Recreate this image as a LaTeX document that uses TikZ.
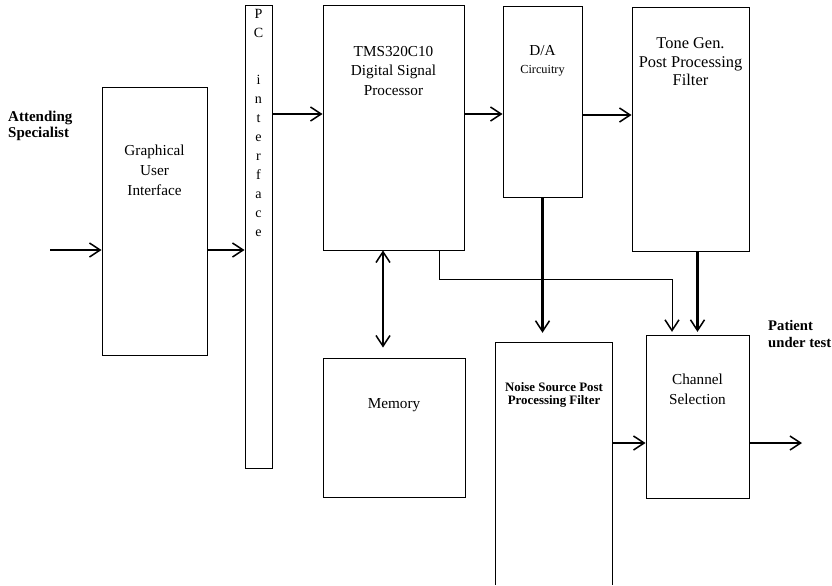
\documentclass[tikz,border=0pt]{standalone}
\usepackage{fontspec}
\setmainfont{Liberation Serif}
\usetikzlibrary{%
  arrows.meta,%
  positioning
}

\begin{document}
\begin{tikzpicture}[x=0.3mm,y=-0.3mm,
    box/.style={draw,line width=0.8pt,inner sep=0pt},
    txt/.style={inner sep=0pt,align=center,font=\fontsize{13}{16.5}\selectfont},
    arr/.style={line width=1.8pt,-{Straight Barb[length=3.2mm,width=4.2mm,line width=1.3pt]}},
    darr/.style={line width=1.8pt,{Straight Barb[length=3.2mm,width=4.2mm,line width=1.3pt]}-{Straight Barb[length=3.2mm,width=4.2mm,line width=1.3pt]}}
  ]
      \useasboundingbox (0,0) rectangle (832,585);

      \node [box,minimum width=31.5mm,minimum height=80.4mm] (gui) at (154.5,221) {};
      \node [box,minimum width=8.1mm,minimum height=138.9mm] (pc) at (258.5,236.5) {};
      \node [box,minimum width=42.3mm,minimum height=73.5mm] (dsp) at (393.5,127.5) {};
      \node [box,minimum width=23.7mm,minimum height=57.3mm] (da) at (542.5,101.5) {};
      \node [box,minimum width=35.1mm,minimum height=73.2mm] (tone) at (690.5,129) {};
      \node [box,minimum width=42.6mm,minimum height=41.7mm] (mem) at (394,427.5) {};
      \node [inner sep=0pt,minimum width=34.8mm,minimum height=72.6mm] (noise) at (554,464) {};
      \node [box,minimum width=30.9mm,minimum height=48.9mm] (chan) at (697.5,416.5) {};
      \draw [line width=0.8pt] (noise.south west) -- (noise.north west)
        -- (noise.north east) -- (noise.south east);

      \node [txt,font=\fontsize{13}{17}\selectfont] (guitxt) at (154.5,170) {Graphical\\User\\Interface};
      \node [txt,font=\fontsize{12}{16.2}\selectfont,anchor=north] (pctxt) at (258.5,9)
        {P\\C\\[24pt]i\\n\\t\\e\\r\\f\\a\\c\\e};
      \node [txt] (dsptxt) at (393.5,71) {TMS320C10\\Digital Signal\\Processor};
      \node [txt,font=\fontsize{13}{15.5}\selectfont] (datxt) at (542.5,61)
        {D/A\\{\fontsize{10.5}{12}\selectfont Circuitry}};
      \node [txt,font=\fontsize{14}{15.7}\selectfont] (tonetxt) at (690.5,62)
        {Tone Gen.\\Post Processing\\Filter};
      \node [txt] (memtxt) at (394,405) {Memory};
      \node [txt,font=\bfseries\fontsize{11}{11.5}\selectfont] (noisetxt) at (554,395)
        {Noise Source Post\\Processing Filter};
      \node [txt,font=\fontsize{13}{17}\selectfont] (chantxt) at (697.5,389) {Channel\\Selection};
      \node [txt,align=left,anchor=west,font=\bfseries\fontsize{12.8}{13.5}\selectfont] (att) at (8,126)
        {Attending\\Specialist};
      \node [txt,align=left,anchor=west,font=\bfseries\fontsize{12.5}{15.3}\selectfont] (pat) at (768,334)
        {Patient\\under test};

      \coordinate (in) at (50,250);
      \coordinate (out) at (802,443);
      \draw [arr] (in) -- (gui.west |- in);
      \draw [arr] (gui.east |- in) -- (pc.west |- in);
      \draw [arr] (pc.east |- 0,114) -- (dsp.west |- 0,114);
      \draw [arr] (dsp.east |- 0,114) -- (da.west |- 0,114);
      \draw [arr] (da.east |- 0,115) -- (tone.west |- 0,115);
      \draw [darr,shorten >=3mm] (dsp.south -| 383,0) -- (mem.north -| 383,0);
      \draw [arr,shorten >=3mm] (da.south) -- (noise.north -| da.south);
      \draw [line width=0.8pt,-{Straight Barb[length=3.2mm,width=4.2mm,line width=1.3pt]},shorten >=0.8mm]
        (dsp.south -| 439,0) -- (439,279) -| (chan.north -| 672,0);
      \draw [arr,shorten >=0.8mm] (tone.south -| chan.north) -- (chan.north);
      \draw [arr] (noise.east |- out) -- (chan.west |- out);
      \draw [arr] (chan.east |- out) -- (out);
    \end{tikzpicture}
\end{document}
